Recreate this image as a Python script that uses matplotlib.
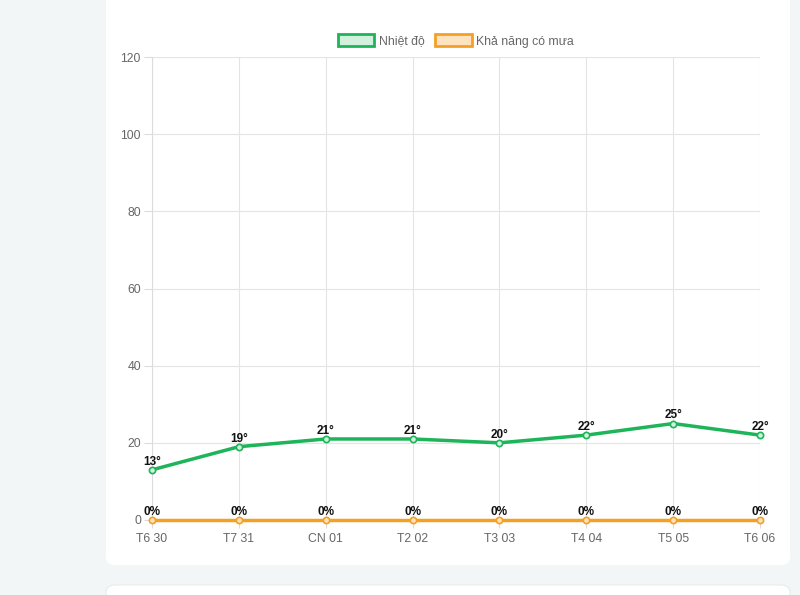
import matplotlib
matplotlib.use("Agg")
import matplotlib.pyplot as plt
from matplotlib.patches import FancyBboxPatch, Patch

plt.rcParams['font.family'] = ['Liberation Sans', 'DejaVu Sans']

days = ['T6 30', 'T7 31', 'CN 01', 'T2 02', 'T3 03', 'T4 04', 'T5 05', 'T6 06']
temps = [13, 19, 21, 21, 20, 22, 25, 22]
rain = [0, 0, 0, 0, 0, 0, 0, 0]
yticks = [0, 20, 40, 60, 80, 100, 120]

green = '#1db45a'
orange = '#f4a025'

fig = plt.figure(figsize=(8, 5.95), dpi=100)
fig.patch.set_facecolor('#f3f6f7')

# white cards behind the chart
card = FancyBboxPatch((106 / 800, 1 - 565 / 595), (790 - 106) / 800, 600 / 595,
                      boxstyle="round,pad=0,rounding_size=0.012",
                      transform=fig.transFigure, facecolor='white', edgecolor='none',
                      zorder=-10)
fig.patches.append(card)
card2 = FancyBboxPatch((106 / 800, -0.05), (790 - 106) / 800, 0.05 + 10 / 595,
                       boxstyle="round,pad=0,rounding_size=0.012",
                       transform=fig.transFigure, facecolor='white', edgecolor='#e8ecee', lw=0.8,
                       zorder=-10)
fig.patches.append(card2)

ax = fig.add_axes([152 / 800, 1 - 520 / 595, (760 - 152) / 800, (520 - 57) / 595])
ax.set_facecolor('white')
x = list(range(len(days)))

ax.plot(x, temps, color=green, lw=2.5, marker='o', ms=4.5,
        mfc='#d2f0de', mec=green, mew=1.2, zorder=3, clip_on=False)
ax.plot(x, rain, color=orange, lw=2.5, marker='o', ms=4.5,
        mfc='#fde3c0', mec=orange, mew=1.2, zorder=3, clip_on=False)

for i, t in enumerate(temps):
    ax.annotate(f'{t}°', (i, t), xytext=(0, 1.5), textcoords='offset points',
                ha='center', va='bottom', fontsize=8.5, fontweight='bold', color='#111111')
for i, r in enumerate(rain):
    ax.annotate(f'{r}%', (i, r), xytext=(0, 1.5), textcoords='offset points',
                ha='center', va='bottom', fontsize=8.5, fontweight='bold', color='#111111')

ax.set_xlim(0, len(days) - 1)
ax.set_ylim(0, 120)
ax.set_xticks(x)
ax.set_xticklabels(days)
ax.set_yticks(yticks)
ax.grid(True, color='#e4e4e4', lw=0.8)
ax.set_axisbelow(True)
for s in ['top', 'right']:
    ax.spines[s].set_visible(False)
for s in ['left', 'bottom']:
    ax.spines[s].set_color('#dcdcdc')
ax.tick_params(axis='both', colors='#dcdcdc', labelcolor='#666666', labelsize=8.8,
               length=6, width=0.8)
ax.tick_params(axis='x', pad=3)
ax.tick_params(axis='y', pad=2)

handles = [Patch(facecolor='#d2f0de', edgecolor=green, lw=2, label='Nhiệt độ'),
           Patch(facecolor='#fde3c0', edgecolor=orange, lw=2, label='Khả năng có mưa')]
fig.legend(handles=handles, loc='center', bbox_to_anchor=(456 / 800, 1 - 41 / 595),
           ncol=2, frameon=False, fontsize=8.8, labelcolor='#666666',
           handlelength=3.0, handleheight=1.1, handletextpad=0.4, columnspacing=0.8)

fig.savefig('out.png', dpi=100, facecolor=fig.get_facecolor())
